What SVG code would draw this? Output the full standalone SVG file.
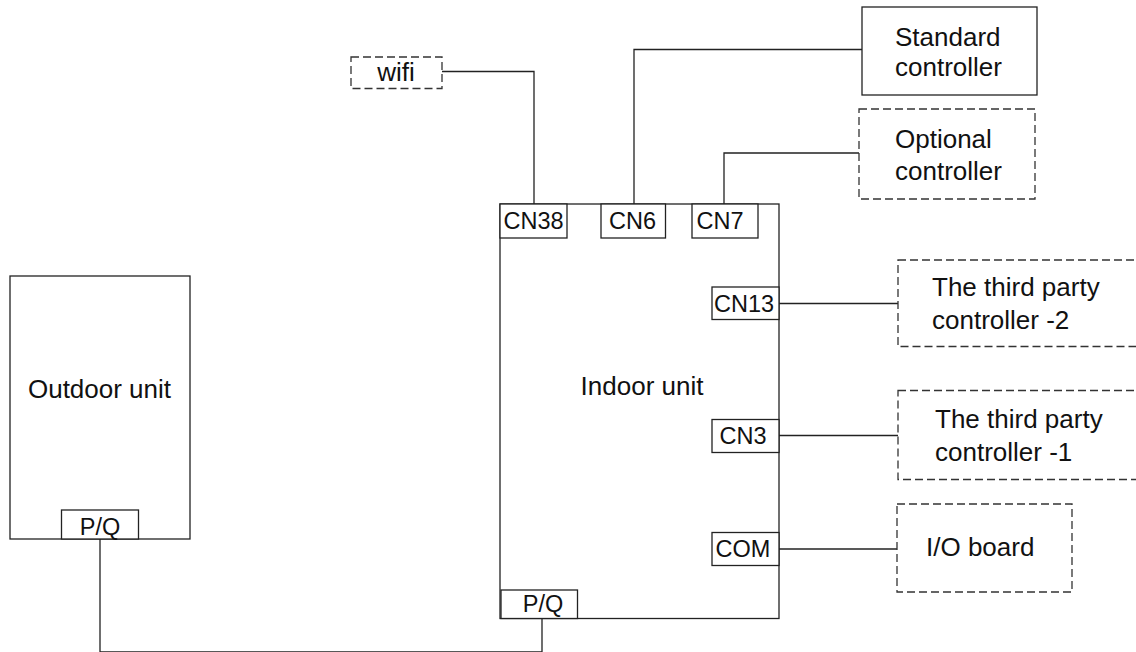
<svg xmlns="http://www.w3.org/2000/svg" width="1136" height="652" viewBox="0 0 1136 652">
<style>
.box{fill:#fff;stroke:#222;stroke-width:1.3}
.dash{fill:#fff;stroke:#333;stroke-width:1.3;stroke-dasharray:8 4}
.wire{fill:none;stroke:#222;stroke-width:1.3}
.t{font-family:"Liberation Sans",Arial,sans-serif;font-size:26px;fill:#111}
.c{font-family:"Liberation Sans",Arial,sans-serif;font-size:23.5px;fill:#111;text-anchor:middle}
</style>
<rect width="1136" height="652" fill="#fff"/>
<g id="connectors">
<path class="wire" d="M442 71.5 H534 V204"/>
<path class="wire" d="M634 204 V49.5 H862"/>
<path class="wire" d="M724 204 V153 H859"/>
<path class="wire" d="M779 303.5 H898"/>
<path class="wire" d="M779 435.5 H898"/>
<path class="wire" d="M779 549 H898"/>
<path class="wire" d="M100 539 V652 H542 V618.5"/>
</g>
<g id="outdoor">
<rect class="box" x="10" y="276" width="180" height="263"/>
<text class="t" x="99.5" y="398" text-anchor="middle">Outdoor unit</text>
</g>
<g id="outdoor-pq">
<rect class="box" x="61.5" y="510" width="77" height="29"/>
<text class="c" x="100" y="535">P/Q</text>
</g>
<g id="indoor">
<rect class="box" x="500" y="204" width="279" height="414.5"/>
<text class="t" x="642" y="395" text-anchor="middle">Indoor unit</text>
</g>
<g id="cn38">
<rect class="box" x="500" y="204" width="67" height="34"/>
<text class="c" x="533.5" y="229">CN38</text>
</g>
<g id="cn6">
<rect class="box" x="601" y="204" width="64.5" height="34"/>
<text class="c" x="632.5" y="229">CN6</text>
</g>
<g id="cn7">
<rect class="box" x="692" y="204" width="66" height="34"/>
<text class="c" x="720" y="228.5">CN7</text>
</g>
<g id="cn13">
<rect class="box" x="712" y="287" width="67" height="32.5"/>
<text class="c" x="744" y="311.5">CN13</text>
</g>
<g id="cn3">
<rect class="box" x="712" y="419.5" width="67" height="33"/>
<text class="c" x="743" y="443.5">CN3</text>
</g>
<g id="com">
<rect class="box" x="712" y="532.5" width="67" height="33"/>
<text class="c" x="743" y="556.5">COM</text>
</g>
<g id="indoor-pq">
<rect class="box" x="501" y="590" width="76.5" height="28.5"/>
<text class="c" x="543" y="611.5">P/Q</text>
</g>
<g id="wifi">
<rect class="dash" x="351" y="57" width="91" height="31.5"/>
<text class="t" x="396" y="81" text-anchor="middle">wifi</text>
</g>
<g id="standard-controller">
<rect class="box" x="862" y="7" width="175" height="88"/>
<text class="t" x="895" y="45.5">Standard</text>
<text class="t" x="895" y="76">controller</text>
</g>
<g id="optional-controller">
<rect class="dash" x="859" y="109" width="176" height="90"/>
<text class="t" x="895" y="148">Optional</text>
<text class="t" x="895" y="180">controller</text>
</g>
<g id="third-party-2">
<rect class="dash" x="898" y="260" width="250" height="86.5"/>
<text class="t" x="932" y="296">The third party</text>
<text class="t" x="932" y="329">controller -2</text>
</g>
<g id="third-party-1">
<rect class="dash" x="898" y="390.5" width="250" height="89"/>
<text class="t" x="935" y="428">The third party</text>
<text class="t" x="935" y="461">controller -1</text>
</g>
<g id="io-board">
<rect class="dash" x="897" y="504" width="175" height="88"/>
<text class="t" x="926" y="556">I/O board</text>
</g>
</svg>
